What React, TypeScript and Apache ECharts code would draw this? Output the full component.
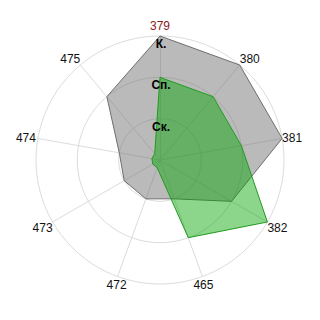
import React, { useEffect, useRef } from "react";
import * as echarts from "echarts";

// Axes in clockwise order starting at the top
const axisNames = ["379", "380", "381", "382", "465", "472", "473", "474", "475"];
const grayValues = [3, 3, 3, 2, 1, 1, 1, 1, 2];
const greenValues = [2, 2, 2, 3, 2, 0.2, 0.2, 0.2, 0.2];
const levelLabels = ["", "Ск.", "Сп.", "К."];
const maxLevel = 3;

// name placement per axis (clockwise order)
const nameLayout: { align: string; verticalAlign: string; gap: number }[] = [
  { align: "center", verticalAlign: "bottom", gap: 4 },
  { align: "left", verticalAlign: "bottom", gap: 0 },
  { align: "left", verticalAlign: "middle", gap: 0 },
  { align: "left", verticalAlign: "top", gap: 0 },
  { align: "center", verticalAlign: "top", gap: 3 },
  { align: "center", verticalAlign: "top", gap: 3 },
  { align: "right", verticalAlign: "top", gap: 0 },
  { align: "right", verticalAlign: "middle", gap: 2 },
  { align: "right", verticalAlign: "bottom", gap: 0 },
];

// ECharts lays indicators counter-clockwise; reorder to get clockwise
const order = [0, ...axisNames.map((_, i) => i).slice(1).reverse()];
const reorder = <T,>(arr: T[]) => order.map((i) => arr[i]);

export default function App() {
  const ref = useRef<HTMLDivElement>(null);
  useEffect(() => {
    if (!ref.current) return;
    const chart = echarts.init(ref.current, null, { renderer: "svg" });
    const font = "'Liberation Sans', Arial, sans-serif";
    const indicatorsBase = order.map((i) => ({
      name: axisNames[i],
      min: 0,
      max: maxLevel,
      color: i === 0 ? "#8b1c1c" : undefined,
      nameGap: nameLayout[i].gap,
      nameTextStyle: { align: nameLayout[i].align, verticalAlign: nameLayout[i].verticalAlign },
    }));
    const indicatorsLabels = order.map((i) => ({
      name: axisNames[i],
      min: 0,
      max: maxLevel,
      axisLabel:
        i === 0
          ? {
              show: true,
              margin: 0,
              align: "center",
              verticalAlign: "top",
              padding: [2, 0, 0, 2],
              color: "#000",
              fontWeight: "bold",
              fontSize: 12,
              fontFamily: font,
              formatter: (v: number) => levelLabels[Math.round(v)] ?? "",
            }
          : { show: false },
    }));
    chart.setOption({
      animation: false,
      radar: [
        {
          center: [160, 160],
          radius: 124,
          shape: "circle",
          splitNumber: 3,
          z: 0,
          indicator: indicatorsBase,
          axisName: { color: "#111", fontSize: 12, fontFamily: font },
          axisLine: { lineStyle: { color: "#dcdcdc", width: 1 } },
          splitLine: { lineStyle: { color: "#dcdcdc", width: 1 } },
          splitArea: { show: false },
          axisTick: { show: false },
          axisLabel: { show: false },
        },
        {
          center: [160, 160],
          radius: 124,
          shape: "circle",
          splitNumber: 3,
          z: 10,
          indicator: indicatorsLabels,
          axisName: { show: false },
          axisLine: { show: false },
          splitLine: { show: false },
          splitArea: { show: false },
          axisTick: { show: false },
          axisLabel: { show: false },
        },
      ],
      series: [
        {
          type: "radar",
          radarIndex: 0,
          symbol: "none",
          data: [
            {
              value: reorder(grayValues),
              lineStyle: { color: "#6e6e6e", width: 1 },
              areaStyle: { color: "rgba(110,110,110,0.48)", opacity: 1 },
            },
            {
              value: reorder(greenValues),
              lineStyle: { color: "#2a9a2a", width: 1 },
              areaStyle: { color: "rgba(0,165,0,0.45)", opacity: 1 },
            },
          ],
        },
      ],
    });
    return () => chart.dispose();
  }, []);
  return (
    <div
      ref={ref}
      style={{ position: "fixed", left: 0, top: 0, width: 320, height: 320, background: "#fff" }}
    />
  );
}
